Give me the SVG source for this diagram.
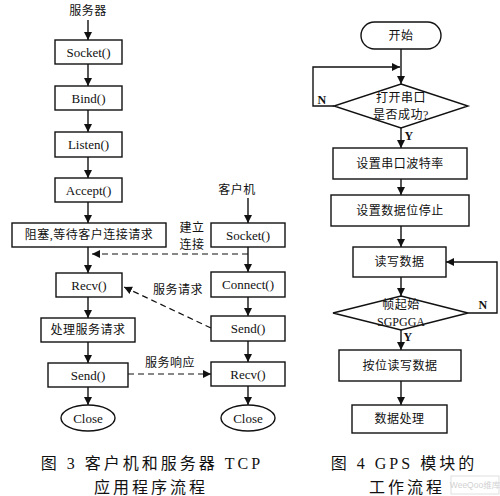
<svg xmlns="http://www.w3.org/2000/svg" width="500" height="496" viewBox="0 0 500 496">
<style>
.box{fill:#fff;stroke:#111;stroke-width:1.4}
.ln{fill:none;stroke:#111;stroke-width:1.4}
.dash{fill:none;stroke:#111;stroke-width:1.2;stroke-dasharray:6 4}
.t{font-family:"Liberation Serif","Noto Sans CJK SC",serif;font-size:13px;fill:#111;text-anchor:middle;dominant-baseline:central}
.c{font-family:"Liberation Serif","Noto Sans CJK SC",serif;font-size:12px;fill:#111;text-anchor:middle;dominant-baseline:central;letter-spacing:0.5px}
.cap{font-family:"Liberation Serif","Noto Sans CJK SC",serif;font-size:16px;fill:#111;text-anchor:middle;dominant-baseline:central;letter-spacing:3px}
</style>
<defs>
<marker id="ah" markerUnits="userSpaceOnUse" markerWidth="10" markerHeight="10" refX="8" refY="4" orient="auto">
<path d="M0,0 L8,4 L0,8 Z" fill="#111"/>
</marker>
</defs>
<g id="connectors">
<line class="ln" x1="88" y1="20" x2="88" y2="40" marker-end="url(#ah)"/>
<line class="ln" x1="88" y1="64" x2="88" y2="86" marker-end="url(#ah)"/>
<line class="ln" x1="88" y1="110" x2="88" y2="132" marker-end="url(#ah)"/>
<line class="ln" x1="88" y1="157" x2="88" y2="178" marker-end="url(#ah)"/>
<line class="ln" x1="88" y1="202" x2="88" y2="223" marker-end="url(#ah)"/>
<line class="ln" x1="88" y1="247" x2="88" y2="273" marker-end="url(#ah)"/>
<line class="ln" x1="88" y1="297" x2="88" y2="318" marker-end="url(#ah)"/>
<line class="ln" x1="88" y1="342" x2="88" y2="363" marker-end="url(#ah)"/>
<line class="ln" x1="88" y1="387" x2="88" y2="405" marker-end="url(#ah)"/>
<line class="ln" x1="248" y1="198" x2="248" y2="223" marker-end="url(#ah)"/>
<line class="ln" x1="248" y1="247" x2="248" y2="272" marker-end="url(#ah)"/>
<line class="ln" x1="248" y1="297" x2="248" y2="316" marker-end="url(#ah)"/>
<line class="ln" x1="248" y1="341" x2="248" y2="362" marker-end="url(#ah)"/>
<line class="ln" x1="248" y1="386" x2="248" y2="405" marker-end="url(#ah)"/>
<line class="dash" x1="248" y1="254" x2="92" y2="254" marker-end="url(#ah)"/>
<line class="dash" x1="211" y1="328" x2="124" y2="287" marker-end="url(#ah)"/>
<line class="dash" x1="128" y1="374" x2="211" y2="374" marker-end="url(#ah)"/>
<line class="ln" x1="401" y1="49" x2="401" y2="84" marker-end="url(#ah)"/>
<polyline class="ln" points="334,106 313,106 313,67 400,67" marker-end="url(#ah)"/>
<line class="ln" x1="401" y1="128" x2="401" y2="148" marker-end="url(#ah)"/>
<line class="ln" x1="401" y1="179" x2="401" y2="195" marker-end="url(#ah)"/>
<line class="ln" x1="401" y1="226" x2="401" y2="247" marker-end="url(#ah)"/>
<line class="ln" x1="401" y1="277" x2="401" y2="296" marker-end="url(#ah)"/>
<line class="ln" x1="401" y1="330" x2="401" y2="350" marker-end="url(#ah)"/>
<line class="ln" x1="401" y1="381" x2="401" y2="405" marker-end="url(#ah)"/>
<polyline class="ln" points="468,313 497,313 497,262 446,262" marker-end="url(#ah)"/>
</g>
<g id="labels">
<text class="c" x="88" y="11">服务器</text>
<text class="c" x="237" y="190">客户机</text>
<text class="c" x="192" y="228">建立</text>
<text class="c" x="192" y="245">连接</text>
<text class="c" x="178" y="290">服务请求</text>
<text class="c" x="170" y="363">服务响应</text>
<text class="c" x="322" y="100" style="font-weight:bold">N</text>
<text class="c" x="409" y="136" style="font-weight:bold">Y</text>
<text class="c" x="483" y="305" style="font-weight:bold">N</text>
<text class="c" x="408" y="337" style="font-weight:bold">Y</text>
</g>
<g id="socket-s"><rect class="box" x="55" y="40" width="67" height="24"/><text class="t" x="88.5" y="52">Socket()</text></g>
<g id="bind"><rect class="box" x="55" y="86" width="67" height="24"/><text class="t" x="88.5" y="98">Bind()</text></g>
<g id="listen"><rect class="box" x="55" y="132" width="67" height="25"/><text class="t" x="88.5" y="144.5">Listen()</text></g>
<g id="accept"><rect class="box" x="55" y="178" width="67" height="24"/><text class="t" x="88.5" y="190">Accept()</text></g>
<g id="block"><rect class="box" x="12" y="223" width="154" height="24"/><text class="c" x="89" y="235">阻塞,等待客户连接请求</text></g>
<g id="recv-s"><rect class="box" x="56" y="273" width="66" height="24"/><text class="t" x="89" y="285">Recv()</text></g>
<g id="process"><rect class="box" x="41" y="318" width="94" height="24"/><text class="c" x="88" y="330">处理服务请求</text></g>
<g id="send-s"><rect class="box" x="48" y="363" width="80" height="24"/><text class="t" x="88" y="375">Send()</text></g>
<g id="close-s"><ellipse class="box" cx="88" cy="418" rx="27" ry="13"/><text class="t" x="88" y="418">Close</text></g>
<g id="socket-c"><rect class="box" x="211" y="223" width="74" height="24"/><text class="t" x="248" y="235">Socket()</text></g>
<g id="connect"><rect class="box" x="211" y="272" width="74" height="25"/><text class="t" x="248" y="284.5">Connect()</text></g>
<g id="send-c"><rect class="box" x="211" y="316" width="74" height="25"/><text class="t" x="248" y="328.5">Send()</text></g>
<g id="recv-c"><rect class="box" x="211" y="362" width="74" height="24"/><text class="t" x="248" y="374">Recv()</text></g>
<g id="close-c"><ellipse class="box" cx="248" cy="418" rx="27" ry="13"/><text class="t" x="248" y="418">Close</text></g>
<g id="start"><rect class="box" x="361" y="22" width="80" height="27" rx="13.5"/><text class="c" x="401" y="35.5">开始</text></g>
<g id="open"><polygon class="box" points="401,84 468,106 401,128 334,106"/><text class="c" x="401" y="98">打开串口</text><text class="c" x="401" y="115">是否成功?</text></g>
<g id="baud"><rect class="box" x="333" y="148" width="134" height="31"/><text class="c" x="400" y="163.5">设置串口波特率</text></g>
<g id="databits"><rect class="box" x="331" y="195" width="138" height="31"/><text class="c" x="400" y="210.5">设置数据位停止</text></g>
<g id="rw"><rect class="box" x="353" y="247" width="93" height="30"/><text class="c" x="399.5" y="262">读写数据</text></g>
<g id="frame"><polygon class="box" points="401,296 468,313 401,330 333,313"/><text class="c" x="401" y="305">帧起始</text><text class="t" x="401" y="322" style="font-size:12px">SGPGGA</text></g>
<g id="bitrw"><rect class="box" x="339" y="350" width="122" height="31"/><text class="c" x="400" y="365.5">按位读写数据</text></g>
<g id="dataproc"><rect class="box" x="352" y="405" width="95" height="28"/><text class="c" x="399.5" y="419">数据处理</text></g>
<g id="captions">
<text class="cap" x="152" y="463">图 3  客户机和服务器 TCP</text>
<text class="cap" x="151" y="487">应用程序流程</text>
<text class="cap" x="404" y="463">图 4  GPS 模块的</text>
<text class="cap" x="407" y="487">工作流程</text>
</g>
<g id="watermark" opacity="0.45">
<rect x="451" y="476" width="48" height="18" fill="none" stroke="#bbb" stroke-width="1"/>
<text x="475" y="485" style="font-family:'Liberation Sans','Noto Sans CJK SC',sans-serif;font-size:8.5px;fill:#999;text-anchor:middle;dominant-baseline:central">WeeQoo维库</text>
</g>
</svg>
